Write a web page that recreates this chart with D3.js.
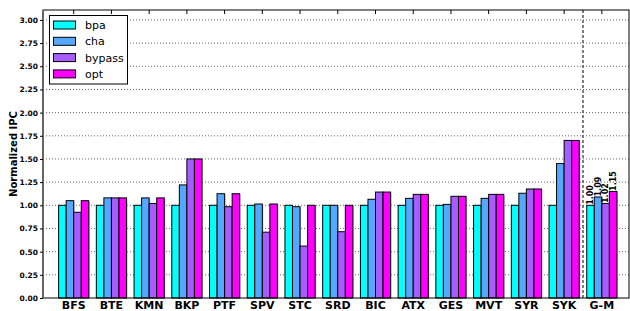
<!DOCTYPE html>
<html>
<head>
<meta charset="UTF-8">
<script src="https://d3js.org/d3.v7.min.js"></script>
<style>
body { margin: 0; background: #fff; }
svg { font-family: "DejaVu Sans", sans-serif; }
</style>
</head>
<body>
<svg width="630" height="311"></svg>
<script>
// data
var categories = ["BFS","BTE","KMN","BKP","PTF","SPV","STC","SRD","BIC","ATX","GES","MVT","SYR","SYK","G-M"];
var seriesNames = ["bpa","cha","bypass","opt"];
var bpa    = [1.00,1.00,1.00,1.00,1.00,1.00,1.00,1.00,1.00,1.00,1.00,1.00,1.00,1.00,1.00];
var cha    = [1.05,1.08,1.08,1.22,1.125,1.014,0.985,1.00,1.065,1.075,1.01,1.075,1.13,1.45,1.09];
var bypass = [0.925,1.08,1.02,1.50,0.985,0.71,0.56,0.715,1.143,1.118,1.097,1.118,1.176,1.70,1.02];
var opt    = [1.05,1.08,1.08,1.50,1.125,1.014,1.00,1.00,1.143,1.118,1.097,1.118,1.176,1.70,1.15];
var gmLabels = ["1.00","1.09","1.02","1.15"];
var yTicks = [0,0.25,0.5,0.75,1,1.25,1.5,1.75,2,2.25,2.5,2.75,3];
var colors = ["#00ffff","#55a8ff","#a65cff","#ff00ff"];

var series = [bpa, cha, bypass, opt];

var svg = d3.select("svg");
var pL = 43, pR = 629, pT = 10, pB = 298;

var x = d3.scaleLinear().domain([-0.814, 14.72]).range([pL, pR]);
var y = d3.scaleLinear().domain([0, 3.107]).range([pB, pT]);
var bw = x(0.2) - x(0);

// grid
svg.append("g").selectAll("line")
  .data(yTicks.filter(function(d) { return d > 0; }))
  .enter().append("line")
  .attr("x1", pL).attr("x2", pR)
  .attr("y1", function(d) { return y(d); })
  .attr("y2", function(d) { return y(d); })
  .attr("stroke", "#666").attr("stroke-width", 1)
  .attr("stroke-dasharray", "1,2");

// bars
series.forEach(function(vals, s) {
  var g = svg.append("g");
  g.selectAll(".sh").data(vals).enter().append("rect")
    .attr("x", function(d, i) { return x(i - 0.4 + s * 0.2) + 1; })
    .attr("y", function(d) { return y(d) + 1; })
    .attr("width", bw)
    .attr("height", function(d) { return pB - y(d) - 1; })
    .attr("fill", "#888").attr("opacity", 0.5);
  g.selectAll(".bar").data(vals).enter().append("rect")
    .attr("x", function(d, i) { return x(i - 0.4 + s * 0.2); })
    .attr("y", function(d) { return y(d); })
    .attr("width", bw)
    .attr("height", function(d) { return pB - y(d); })
    .attr("fill", colors[s])
    .attr("stroke", "#000").attr("stroke-width", 1);
});

// dashed separator
svg.append("line")
  .attr("x1", x(13.5)).attr("x2", x(13.5))
  .attr("y1", pT).attr("y2", pB)
  .attr("stroke", "#555").attr("stroke-width", 1.5)
  .attr("stroke-dasharray", "3,2");

// frame
svg.append("rect")
  .attr("x", pL).attr("y", pT)
  .attr("width", pR - pL).attr("height", pB - pT)
  .attr("fill", "none").attr("stroke", "#000").attr("stroke-width", 1);
svg.append("line")
  .attr("x1", pL).attr("x2", pL).attr("y1", pT).attr("y2", pB)
  .attr("stroke", "#666").attr("stroke-width", 2);

// y axis
var yAxis = svg.append("g")
  .attr("transform", "translate(" + pL + ",0)")
  .call(d3.axisLeft(y).tickValues(yTicks).tickFormat(d3.format(".2f")).tickSize(3).tickPadding(2));
yAxis.select(".domain").remove();
yAxis.selectAll("text").attr("font-size", "7.5px").attr("font-weight", "bold")
  .attr("font-family", "DejaVu Sans").attr("fill", "#000");

// x axis labels and ticks
var idx = categories.map(function(d, i) { return i; });
svg.append("g").selectAll("text").data(idx).enter().append("text")
  .attr("x", function(i) { return x(i); })
  .attr("y", 309)
  .attr("text-anchor", "middle")
  .attr("font-size", "11px").attr("font-weight", "bold")
  .text(function(i) { return categories[i]; });
svg.append("g").selectAll("line").data(idx).enter().append("line")
  .attr("x1", function(i) { return x(i); }).attr("x2", function(i) { return x(i); })
  .attr("y1", pT).attr("y2", pT + 4)
  .attr("stroke", "#000");

// G-M value labels
var gi = categories.length - 1;
gmLabels.forEach(function(t, s) {
  var cx = x(gi - 0.4 + s * 0.2) + bw / 2 + 2.5;
  var cy = y(series[s][gi]) - 0.5;
  svg.append("text")
    .attr("transform", "translate(" + cx + "," + cy + ") rotate(-90)")
    .attr("font-size", "8px").attr("font-weight", "bold")
    .text(t);
});

// y label
svg.append("text")
  .attr("transform", "translate(17,154) rotate(-90)")
  .attr("text-anchor", "middle")
  .attr("font-size", "10px").attr("font-weight", "bold")
  .text("Normalized IPC");

// legend
var lg = svg.append("g");
lg.append("rect").attr("x", 49.5).attr("y", 15.5).attr("width", 78).attr("height", 68.5)
  .attr("fill", "#fff").attr("stroke", "#000").attr("stroke-width", 1);
seriesNames.forEach(function(n, s) {
  var ry = 25 + s * 16.3;
  lg.append("rect").attr("x", 53.5).attr("y", ry - 4).attr("width", 22).attr("height", 8)
    .attr("fill", colors[s]).attr("stroke", "#000").attr("stroke-width", 1);
  lg.append("text").attr("x", 85).attr("y", ry + 4)
    .attr("font-size", "11px").text(n);
});
</script>
</body>
</html>
